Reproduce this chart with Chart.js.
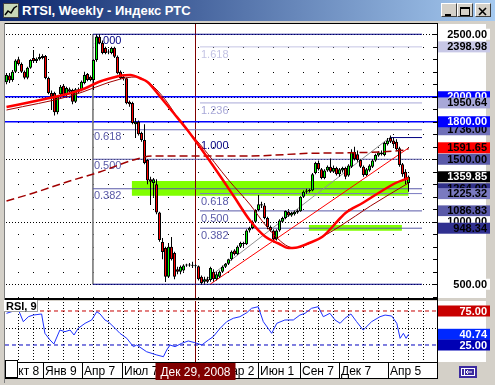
<!DOCTYPE html>
<html>
<head>
<meta charset="utf-8">
<script src="https://cdn.jsdelivr.net/npm/chart.js@4.4.1/dist/chart.umd.min.js"></script>
<style>
  body { margin: 0; width: 495px; height: 385px; overflow: hidden; background: #d4d0c8; position: relative; font-family: "Liberation Sans", Arial, sans-serif; }
  #titlebar { position: absolute; left: 0; top: 0; width: 495px; height: 21px; background: linear-gradient(to right, #0a246a, #a6caf0); }
  #titlebar .txt { position: absolute; left: 22px; top: 3px; color: #fff; font: bold 13px "Liberation Sans", Arial, sans-serif; white-space: nowrap; }
  #icon { position: absolute; left: 3px; top: 3px; width: 16px; height: 15px; }
  .btn { position: absolute; top: 3px; width: 14px; height: 12px; background: #d4d0c8; border: 1px solid; border-color: #fff #404040 #404040 #fff; }
  canvas { position: absolute; left: 0; top: 0; }
</style>
</head>
<body>
<div id="titlebar">
  <svg id="icon" viewBox="0 0 16 15"><rect x="0.5" y="0.5" width="15" height="14" fill="#c8d8b8" stroke="#404040"/><polyline points="2,12 5,8 8,10 11,5 14,3" fill="none" stroke="#000" stroke-width="1.5"/></svg>
  <div class="txt">RTSI, Weekly - Индекс РТС</div>
  <div class="btn" style="left:441px"><svg width="14" height="12"><rect x="3" y="8" width="6" height="2" fill="#000"/></svg></div>
  <div class="btn" style="left:457px"><svg width="14" height="12"><rect x="2.5" y="1.5" width="9" height="8" fill="none" stroke="#000"/><rect x="2" y="1" width="10" height="2" fill="#000"/></svg></div>
  <div class="btn" style="left:475px"><svg width="14" height="12"><path d="M3 2 L10 9 M10 2 L3 9" stroke="#000" stroke-width="1.6"/></svg></div>
</div>
<canvas id="main" width="495" height="385"></canvas>
<canvas id="rsi" width="495" height="385"></canvas>
<script>
// Weekly RTSI candles, bar 0 = week of Oct 8, 2007
const opens = [2116,2170,2134,2200,2300,2262,2200,2152,2232,2310,2286,2300,2310,2326,2150,2030,2030,1876,2020,2088,
  2014,2060,2054,1960,2060,2054,2110,2182,2160,2134,2294,2480,2430,2390,2360,2350,2392,2320,2200,2160,
  2148,1960,1950,1780,1800,1710,1654,1494,1340,1310,1300,1074,838,790,560,800,750,620,600,610,
  650,655,650,648,645,560,520,540,534,600,540,560,600,640,665,700,770,740,800,830,
  820,930,950,1000,1094,1140,1130,1030,958,930,860,930,1000,1030,1080,1050,1060,1075,1085,1200,
  1240,1245,1250,1390,1470,1420,1350,1410,1440,1400,1430,1380,1410,1430,1370,1440,1560,1540,1494,1440,
  1374,1410,1440,1490,1530,1555,1534,1620,1670,1650,1640,1588,1460,1400,1310];
const highs = [2190,2190,2215,2300,2320,2275,2210,2240,2300,2374,2315,2345,2340,2335,2160,2050,2040,2010,2095,2095,
  2080,2075,2065,2070,2075,2130,2200,2190,2170,2300,2500,2500,2450,2400,2380,2400,2400,2330,2210,2170,
  2155,1970,1960,1830,1810,1720,1780,1500,1360,1350,1340,1080,870,800,830,878,760,640,650,660,
  665,670,680,660,650,570,560,560,640,620,600,610,650,670,705,770,780,810,840,840,
  940,960,1010,1100,1214,1160,1150,1040,970,940,940,1020,1040,1090,1090,1080,1090,1100,1205,1250,
  1265,1265,1390,1480,1490,1430,1420,1450,1507,1450,1440,1430,1440,1440,1460,1580,1600,1570,1500,1450,
  1430,1460,1500,1545,1565,1570,1640,1670,1690,1675,1660,1600,1470,1420,1370];
const lows = [2100,2110,2120,2190,2250,2190,2140,2140,2225,2270,2270,2290,2300,2140,2020,1894,1850,1860,2010,2000,
  2005,2030,1940,1950,2030,2045,2100,2125,2125,2054,2280,2420,2340,2340,2340,2340,2310,2180,2140,2130,
  1940,1920,1780,1670,1690,1640,1460,1300,1134,1200,1060,840,700,518,550,690,540,580,580,600,
  640,640,630,630,530,500,505,510,520,520,530,550,590,630,655,690,730,735,790,800,
  815,915,940,990,1085,1110,1020,940,920,835,850,920,990,1020,1040,1040,1050,1065,1080,1190,
  1225,1235,1245,1380,1410,1340,1340,1400,1390,1390,1370,1360,1395,1340,1360,1430,1490,1480,1430,1360,
  1365,1400,1430,1480,1520,1530,1525,1610,1630,1600,1570,1440,1360,1300,1240];
const closes = [2174,2130,2200,2290,2262,2200,2152,2232,2294,2286,2305,2318,2326,2150,2030,2000,1876,2000,2080,2014,
  2070,2040,1960,2060,2040,2120,2174,2134,2134,2294,2480,2428,2350,2350,2355,2390,2320,2188,2148,2148,
  1948,1940,1790,1800,1700,1654,1470,1330,1320,1340,1074,854,758,560,800,700,560,600,640,650,
  655,650,648,645,540,510,540,520,630,540,580,600,640,665,700,760,740,800,830,820,
  930,950,1000,1094,1140,1130,1030,958,930,860,930,1010,1030,1086,1050,1070,1080,1090,1200,1240,
  1250,1255,1380,1470,1420,1350,1410,1440,1400,1430,1380,1420,1430,1360,1450,1560,1500,1494,1440,1374,
  1420,1450,1490,1534,1555,1540,1630,1650,1640,1620,1580,1454,1380,1330,1359.85];

// moving averages (bar index, value)
const maFastIdx = [0, 11.3, 21.3, 26.3, 30.7, 35, 38.3, 41.3, 44.7, 47, 51.3, 55.7, 60.3, 64.7, 70.3, 75.7, 81.3, 86.3, 90.7, 94, 96.3, 100.7, 105.3, 111.3, 113, 118.7, 124, 129.7, 134];
const maFastVal = [1918, 1974, 2028, 2068, 2118, 2150, 2170, 2174, 2146, 2118, 1998, 1870, 1734, 1590, 1398, 1206, 1006, 880, 826, 790, 792, 828, 880, 1030, 1070, 1150, 1230, 1310, 1350];
const maSlowIdx = [0, 21.3, 38, 43, 48, 53, 58, 64.7, 74, 81.3, 86.3, 93, 96.3, 102, 111.3, 121.3, 134];
const maSlowVal = [1894, 2006, 2142, 2158, 2102, 1974, 1798, 1614, 1334, 1134, 974, 814, 790, 838, 966, 1126, 1310];
const maLongIdx = [0, 9, 20.3, 31.3, 42.3, 48.7, 81.3, 102, 133, 134];
const maLongVal = [1166, 1230, 1320, 1400, 1494, 1526, 1526, 1548, 1574, 1585];

// RSI(9)
const rsiIdx = [0, 1.7, 3.9, 5.6, 7.3, 8.9, 11.7, 12.8, 14.5, 15.8, 17.8, 19.5, 21.2, 22.5, 23.9, 26.2, 28.4, 30.1, 31.2, 32.8,
  33.9, 36.2, 37.8, 40.1, 42.3, 43.4, 46.7, 50.1, 52.3, 53.4, 54.5, 56.2, 58.4, 60.6, 62.8, 65.1, 67.3, 68.9, 71.2, 73.4,
  75.6, 77.8, 80.1, 81.7, 83.9, 85.6, 88.4, 90.1, 92.8, 95.6, 97.8, 99.5, 101.7, 103.9, 105.6, 107.8, 109.5, 111.2, 112.8, 114.8,
  116.7, 118.9, 121.7, 124.5, 126.2, 128.4, 130.1, 131.2, 132.3, 133.2, 134];
const rsiVal = [71.6, 74, 77.5, 59.3, 66.6, 69, 70.6, 42.2, 32.4, 26.5, 47, 44.6, 47, 39.7, 49.5, 56.9, 61.8, 74, 70.6, 61.8,
  59.3, 49.5, 42.2, 34.8, 22.5, 25, 15.1, 10.3, 7.8, 17.6, 25, 22.5, 27.5, 30.9, 28.4, 25, 32.4, 37.2, 49.5, 59.3,
  64.3, 66.6, 72.5, 79, 81.3, 59.3, 42.2, 56.9, 61.8, 61.8, 69, 71.6, 79, 81.3, 66.6, 71.6, 61.8, 56.9, 64.3, 70.6,
  59.3, 47, 59.3, 66.6, 69, 67.6, 56.9, 34.8, 42.2, 34.8, 40.74];

// time axis
const dateTickIdx = [0.3, 12.3, 25.3, 38.7, 71, 84, 98, 111, 127.3];
const dateTickText = ["Окт 8", "Янв 9", "Апр 7", "Июл 7", "Мар 2", "Июн 1", "Сен 7", "Дек 7", "Апр 5"];
const cursorIdx = 63;
const cursorText = "Дек 29, 2008";

// drawn objects
const fibo1Levels = [0, 0.382, 0.5, 0.618, 1];       // 500 -> 2500
const fibo2Levels = [0.382, 0.5, 0.618, 1, 1.236, 1.618]; // 500 -> 1673.6
const hLines = [2000, 1800];
const trendIdx = [68, 134];
const trendVal = [502, 1590];
const fiboTrendIdx = [65.5, 128];
const fiboTrendVal = [520, 1678];
const zoneA = [41.8, 134, 1208, 1326];
const zoneB = [100.8, 131.8, 928, 974];

const LOW = 500, HIGH1 = 2500, HIGH2 = 1673.6;
const X0 = 28.8, X2 = 64.5, XTOP2 = 128, XEND = 138.5;
const XMIN = -0.5, XMAX = 143.5;

const fibo1Color = { 0: "#000080", 0.382: "#5a5aa8", 0.5: "#5a5aa8", 0.618: "#7070b8", 1: "#000080" };
const fibo2Color = { 0.382: "#5a5aa8", 0.5: "#5a5aa8", 0.618: "#7a7ac0", 1: "#000080", 1.236: "#a8a8d8", 1.618: "#c4c4e4" };

function seg(x0, x1, v0, v1, color, width, dash, order) {
  return {
    type: "line",
    data: [{ x: x0, y: v0 }, { x: x1, y: v1 }],
    borderColor: color, borderWidth: width, borderDash: dash || [],
    pointRadius: 0, order: order || 50, tension: 0
  };
}

function maLine(idxArr, valArr, color, width, dash, order) {
  return {
    type: "line",
    data: idxArr.map((x, i) => ({ x: x, y: valArr[i] })),
    borderColor: color, borderWidth: width, borderDash: dash || [],
    pointRadius: 0, cubicInterpolationMode: "monotone", order: order
  };
}

const idx = closes.map((_, i) => i);
const datasets = [];

// fibonacci levels
fibo1Levels.forEach(l => datasets.push(seg(X0, XEND, LOW + l * (HIGH1 - LOW), LOW + l * (HIGH1 - LOW), fibo1Color[l], 1)));
fibo2Levels.forEach(l => datasets.push(seg(l === 1 ? XTOP2 : X2, XEND, LOW + l * (HIGH2 - LOW), LOW + l * (HIGH2 - LOW), fibo2Color[l], 1)));
datasets.push(seg(X0, X0, HIGH1, LOW, "#808080", 1));
hLines.forEach(v => datasets.push(seg(XMIN, XMAX, v, v, "#0000ff", 1.5)));
datasets.push(seg(fiboTrendIdx[0], fiboTrendIdx[1], fiboTrendVal[0], fiboTrendVal[1], "#909090", 1, [], 45));
datasets.push(seg(trendIdx[0], trendIdx[1], trendVal[0], trendVal[1], "#ff0000", 1, [], 45));

// candles
datasets.push({
  type: "bar", data: idx.map(i => ({ x: i, y: [lows[i], highs[i]] })),
  backgroundColor: "#000", barThickness: 1, grouped: false, inflateAmount: 0, minBarLength: 1, order: 30
});
datasets.push({
  type: "bar", data: idx.map(i => ({ x: i, y: [opens[i], closes[i]] })),
  backgroundColor: idx.map(i => closes[i] >= opens[i] ? "#00ff00" : "#ff0000"),
  borderColor: "#000", borderWidth: 1, borderSkipped: false,
  barThickness: 3, grouped: false, inflateAmount: 0, minBarLength: 1, order: 20
});

// moving averages
datasets.push(maLine(maLongIdx, maLongVal, "#a00000", 1.5, [8, 4], 12));
datasets.push(maLine(maSlowIdx, maSlowVal, "#a00000", 1, [], 11));
datasets.push(maLine(maFastIdx, maFastVal, "#ff0000", 2.5, [], 10));

const axisMarks = [
  { v: 2500, t: "2500.00", bg: "#ffffff", fg: "#000" },
  { v: 2000, t: "2000.00", bg: "#0000ff", fg: "#fff" },
  { v: 1950.64, t: "1950.64", bg: "#a8a8d8", fg: "#000" },
  { v: 2398.98, t: "2398.98", bg: "#c8c8e6", fg: "#000" },
  { v: 1736, t: "1736.00", bg: "#7070b8", fg: "#000" },
  { v: 1800, t: "1800.00", bg: "#0000ff", fg: "#fff" },
  { v: 1591.65, t: "1591.65", bg: "#ff0000", fg: "#000" },
  { v: 1500, t: "1500.00", bg: "#5a5aa8", fg: "#000" },
  { v: 1359.85, t: "1359.85", bg: "#000000", fg: "#fff" },
  { v: 1264, t: "1264.00", bg: "#303088", fg: "#000" },
  { v: 1225.32, t: "1225.32", bg: "#7a7ac0", fg: "#000" },
  { v: 1086.83, t: "1086.83", bg: "#5a5aa8", fg: "#000" },
  { v: 1000, t: "1000.00", bg: "#ffffff", fg: "#000" },
  { v: 948.34, t: "948.34", bg: "#303090", fg: "#000" },
  { v: 500, t: "500.00", bg: "#ffffff", fg: "#000" }
];

const mainDecor = {
  id: "mainDecor",
  beforeDraw(chart) {
    const { ctx, chartArea: a, scales: { x, y } } = chart;
    ctx.save();
    ctx.fillStyle = "#fff";
    ctx.fillRect(a.left, a.top, 486 - a.left, a.bottom - a.top);
    ctx.fillStyle = "#000";
    ctx.fillRect(4, 23, 434, 1);
    ctx.fillStyle = "#808080";
    ctx.fillRect(4, 23, 1, 360);
    // grid
    ctx.fillStyle = "#000";
    for (let v = 400; v <= 2500; v += 100) {
      const py = Math.round(y.getPixelForValue(v));
      if (v % 500 === 0) {
        for (let px = a.left + 1; px < a.right; px += 3) ctx.fillRect(px, py, 1, 1);
      } else {
        for (let i = 4; i < XMAX; i += 5) ctx.fillRect(Math.floor(x.getPixelForValue(i)), py, 1, 1);
      }
    }
    ctx.restore();
  },
  beforeDatasetsDraw(chart) {
    const { ctx, chartArea: a, scales: { x, y } } = chart;
    ctx.save();
    ctx.fillStyle = "#80ff00";
    [zoneA, zoneB].forEach(z => {
      const x0 = x.getPixelForValue(z[0]), x1 = x.getPixelForValue(z[1]);
      const y0 = y.getPixelForValue(z[3]), y1 = y.getPixelForValue(z[2]);
      ctx.fillRect(x0, y0, x1 - x0, y1 - y0);
    });
    // cursor line
    ctx.fillStyle = "#800000";
    ctx.fillRect(Math.floor(x.getPixelForValue(cursorIdx)), a.top, 1, a.bottom - a.top);
    // fibo labels
    ctx.font = "11px 'Liberation Sans', Arial, sans-serif";
    ctx.textBaseline = "alphabetic";
    fibo1Levels.forEach(l => {
      if (l === 0) return;
      ctx.fillStyle = fibo1Color[l] === "#000080" ? "#000080" : "#5a5aa8";
      ctx.fillText(l.toFixed(3), x.getPixelForValue(X0) + 1, y.getPixelForValue(LOW + l * (HIGH1 - LOW)) + 10);
    });
    fibo2Levels.forEach(l => {
      ctx.fillStyle = l > 1 ? fibo2Color[l] : (l === 1 ? "#000080" : "#5a5aa8");
      ctx.fillText(l.toFixed(3), x.getPixelForValue(X2) + 1, y.getPixelForValue(LOW + l * (HIGH2 - LOW)) + 11);
    });
    ctx.restore();
  },
  afterDraw(chart) {
    const { ctx, chartArea: a, scales: { y } } = chart;
    ctx.save();
    ctx.fillStyle = "#000";
    ctx.fillRect(a.right, 23, 1, a.bottom - 23);
    for (let v = 400; v <= 2500; v += 100) {
      ctx.fillRect(a.right - 4, Math.round(y.getPixelForValue(v)), 4, 1);
    }
    ctx.fillRect(a.left, a.bottom, a.right - a.left + 1, 2);
    ctx.font = "bold 11px 'Liberation Sans', Arial, sans-serif";
    ctx.textAlign = "right";
    ctx.textBaseline = "middle";
    axisMarks.forEach(m => {
      const py = y.getPixelForValue(m.v);
      ctx.fillStyle = m.bg;
      ctx.fillRect(a.right + 1, py - 5.5, 52, 11);
      ctx.fillStyle = m.fg;
      ctx.fillText(m.t, 487, py + 0.5);
    });
    ctx.restore();
  }
};

new Chart(document.getElementById("main"), {
  type: "line",
  data: { datasets: datasets },
  options: {
    responsive: false, animation: false, events: [],
    layout: { padding: { left: 5, right: 58, top: 24, bottom: 87 } },
    plugins: { legend: { display: false }, tooltip: { enabled: false } },
    scales: {
      x: { type: "linear", min: XMIN, max: XMAX, offset: false, display: false },
      y: { type: "linear", min: 390, max: 2582, display: false }
    }
  },
  plugins: [mainDecor]
});

// ---- RSI panel ----
const rsiLevels = [75, 25];
const rsiMarks = [
  { v: 75, t: "75.00", bg: "#c80000", fg: "#fff" },
  { v: 40.74, t: "40.74", bg: "#0028ff", fg: "#fff" },
  { v: 25, t: "25.00", bg: "#0000b4", fg: "#fff" }
];

const rsiDecor = {
  id: "rsiDecor",
  beforeDraw(chart) {
    const { ctx, chartArea: a, scales: { x, y } } = chart;
    ctx.save();
    ctx.fillStyle = "#fff";
    ctx.fillRect(a.left, a.top, 486 - a.left, a.bottom - a.top);
    ctx.fillRect(a.left, a.bottom, a.right - a.left, 16);
    ctx.fillStyle = "#000";
    const py50 = Math.round(y.getPixelForValue(50));
    for (let px = a.left + 1; px < a.right; px += 3) ctx.fillRect(px, py50, 1, 1);
    for (let i = 4; i < XMAX; i += 5) {
      const px = Math.floor(x.getPixelForValue(i));
      for (let py = a.top + 1; py < a.bottom; py += 3) ctx.fillRect(px, py, 1, 1);
    }
    ctx.fillStyle = "#800000";
    ctx.fillRect(Math.floor(x.getPixelForValue(cursorIdx)), a.top, 1, a.bottom - a.top);
    ctx.restore();
  },
  afterDraw(chart) {
    const { ctx, chartArea: a, scales: { x, y } } = chart;
    ctx.save();
    ctx.fillStyle = "#000";
    ctx.fillRect(a.right, a.top - 1, 1, a.bottom - a.top + 17);
    ctx.fillRect(a.left, a.bottom, a.right - a.left, 1);
    ctx.fillRect(a.left, a.bottom + 16, a.right - a.left + 1, 1);
    // RSI name box
    ctx.fillStyle = "#fff";
    ctx.fillRect(4, 300, 34, 12);
    ctx.fillStyle = "#a0a0a0";
    ctx.fillRect(37, 300, 1, 12);
    ctx.fillRect(4, 311, 34, 1);
    ctx.fillStyle = "#000";
    ctx.font = "bold 11px 'Liberation Sans', Arial, sans-serif";
    ctx.textBaseline = "alphabetic";
    ctx.fillText("RSI, 9", 6, 310);
    // right labels
    ctx.textAlign = "right";
    ctx.textBaseline = "middle";
    rsiMarks.forEach(m => {
      const py = y.getPixelForValue(m.v);
      ctx.fillStyle = m.bg;
      ctx.fillRect(a.right + 1, py - 5.5, 52, 11);
      ctx.fillStyle = m.fg;
      ctx.fillText(m.t, 487, py + 0.5);
    });
    // time axis
    ctx.font = "12px 'Liberation Sans', Arial, sans-serif";
    ctx.textAlign = "left";
    ctx.textBaseline = "alphabetic";
    ctx.fillStyle = "#000";
    dateTickIdx.forEach((d, k) => {
      const px = Math.floor(x.getPixelForValue(d));
      ctx.fillRect(px, a.bottom + 1, 1, 15);
      ctx.fillText(dateTickText[k], px + 2, a.bottom + 13);
    });
    const cx = x.getPixelForValue(cursorIdx);
    ctx.fillStyle = "#800000";
    ctx.fillRect(cx - 40, a.bottom + 1, 80, 17);
    ctx.fillStyle = "#fff";
    ctx.textAlign = "center";
    ctx.fillText(cursorText, cx, a.bottom + 14);
    // left corner box
    ctx.fillStyle = "#fff";
    ctx.fillRect(5, 360, 13, 18);
    ctx.strokeStyle = "#000";
    ctx.lineWidth = 1;
    ctx.strokeRect(5.5, 360.5, 12, 17);
    // scroll button
    ctx.fillStyle = "#3c2aa0";
    ctx.fillRect(459, 366, 18, 12);
    ctx.strokeStyle = "#fff";
    ctx.strokeRect(461.5, 368.5, 13, 7);
    ctx.beginPath();
    ctx.moveTo(464.5, 369); ctx.lineTo(464.5, 375);
    ctx.moveTo(472, 372); ctx.lineTo(466, 372);
    ctx.moveTo(468, 370); ctx.lineTo(466, 372); ctx.lineTo(468, 374);
    ctx.stroke();
    ctx.restore();
  }
};

new Chart(document.getElementById("rsi"), {
  type: "line",
  data: {
    datasets: [
      seg(XMIN, XMAX, rsiLevels[0], rsiLevels[0], "#c80000", 1, [4, 3], 50),
      seg(XMIN, XMAX, rsiLevels[1], rsiLevels[1], "#0000c0", 1, [4, 3], 50),
      { type: "line", data: rsiIdx.map((d, i) => ({ x: d, y: rsiVal[i] })), borderColor: "#1e32ff", borderWidth: 1, pointRadius: 0, tension: 0, order: 10 }
    ]
  },
  options: {
    responsive: false, animation: false, events: [],
    layout: { padding: { left: 5, right: 58, top: 301, bottom: 23 } },
    plugins: { legend: { display: false }, tooltip: { enabled: false } },
    scales: {
      x: { type: "linear", min: XMIN, max: XMAX, offset: false, display: false },
      y: { type: "linear", min: 0, max: 89.7, display: false }
    }
  },
  plugins: [rsiDecor]
});
</script>
</body>
</html>
